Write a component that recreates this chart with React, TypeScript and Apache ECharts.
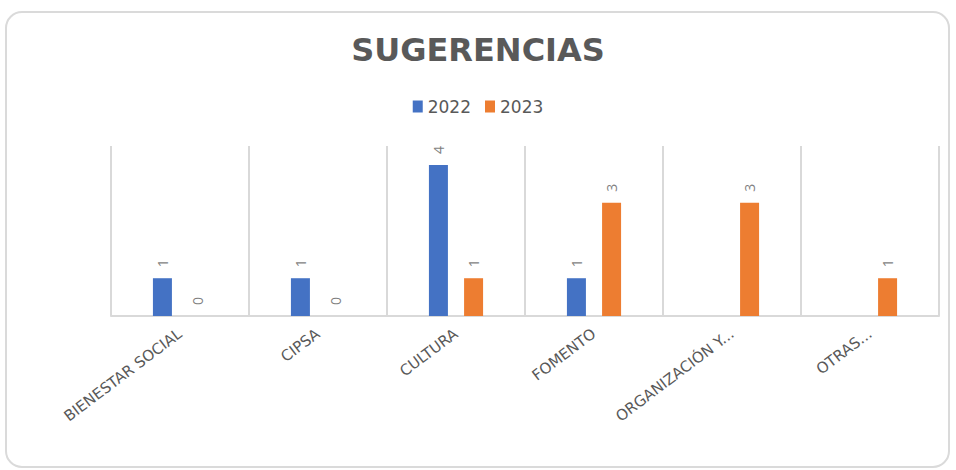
import React, { useEffect, useRef } from "react";
import * as echarts from "echarts";

const categories = ["BIENESTAR SOCIAL", "CIPSA", "CULTURA", "FOMENTO", "ORGANIZACIÓN Y...", "OTRAS..."];
const series2022: (number | null)[] = [1, 1, 4, 1, null, null];
const series2023: (number | null)[] = [0, 0, 1, 3, 3, 1];
const seriesNames = ["2022", "2023"];
const titleText = "SUGERENCIAS";

export default function App() {
  const ref = useRef<HTMLDivElement>(null);
  useEffect(() => {
    if (!ref.current) return;
    const chart = echarts.init(ref.current, undefined, { renderer: "svg" });
    const labelCfg = {
      show: true,
      position: "top" as const,
      rotate: 90,
      align: "left" as const,
      verticalAlign: "middle" as const,
      distance: 11,
      color: "#7f7f7f",
      fontSize: 14,
      fontFamily: "Open Sans",
    };
    chart.setOption({
      animation: false,
      backgroundColor: "#ffffff",
      textStyle: { fontFamily: "DejaVu Sans" },
      graphic: [
        {
          type: "rect",
          shape: { x: 6, y: 12, width: 943, height: 455, r: 16 },
          style: { fill: "none", stroke: "#dadada", lineWidth: 2 },
          silent: true,
          z: -10,
        },
      ],
      title: {
        text: titleText,
        left: "center",
        top: 29,
        textStyle: { fontSize: 32, fontWeight: "bold", color: "#595959", fontFamily: "DejaVu Sans" },
      },
      legend: {
        data: seriesNames,
        top: 93,
        left: "center",
        itemWidth: 10,
        itemHeight: 12,
        itemGap: 14,
        icon: "rect",
        textStyle: { fontSize: 17, color: "#595959", fontFamily: "DejaVu Sans" },
      },
      grid: { left: 111, right: 17, top: 146, bottom: 154 },
      xAxis: {
        type: "category",
        data: categories,
        boundaryGap: true,
        axisLine: { show: true, lineStyle: { color: "#d9d9d9", width: 2 } },
        axisTick: { show: false },
        splitLine: { show: true, lineStyle: { color: "#d9d9d9", width: 2 } },
        axisLabel: {
          rotate: 37,
          interval: 0,
          margin: 16,
          fontSize: 15,
          color: "#595959",
          fontFamily: "DejaVu Sans",
        },
      },
      yAxis: {
        type: "value",
        min: 0,
        max: 4.5,
        show: false,
        splitLine: { show: false },
      },
      series: [
        {
          name: seriesNames[0],
          type: "bar",
          data: series2022,
          barWidth: 19,
          barGap: "85%",
          itemStyle: { color: "#4472c4" },
          label: labelCfg,
        },
        {
          name: seriesNames[1],
          type: "bar",
          data: series2023,
          barWidth: 19,
          itemStyle: { color: "#ed7d31" },
          label: labelCfg,
        },
      ],
    });
    return () => chart.dispose();
  }, []);
  return (
    <div
      ref={ref}
      style={{ position: "fixed", left: 0, top: 0, width: 956, height: 470 }}
    />
  );
}
